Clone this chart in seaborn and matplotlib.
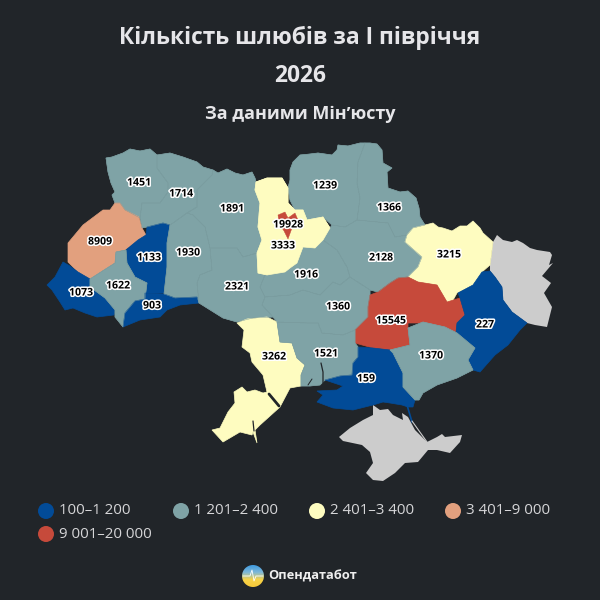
import numpy as np
import pandas as pd
import matplotlib.pyplot as plt
import matplotlib.patheffects as pe
from matplotlib.patches import Circle
import seaborn as sns

# назви областей і кількість шлюбів
oblasti = ['Волинська', 'Рівненська', 'Житомирська', 'Чернігівська', 'Сумська', 'Львівська',
           'Тернопільська', 'Хмельницька', 'Закарпатська', 'Івано-Франківська', 'Чернівецька',
           'Вінницька', 'Київська', 'Київ', 'Черкаська', 'Полтавська', 'Харківська',
           'Кіровоградська', 'Дніпропетровська', 'Донецька', 'Одеська', 'Миколаївська',
           'Херсонська', 'Запорізька']
shliuby = [1451, 1714, 1891, 1239, 1366, 8909,
           1133, 1930, 1073, 1622, 903,
           2321, 3333, 19928, 1916, 2128, 3215,
           1360, 15545, 227, 3262, 1521,
           159, 1370]

# контури областей (пікселі картинки)
volyn = [(106,158),(112,157),(123,153),(130,149),(140,151),(150,149),(157,155),(157,168),(168,183),(168,192),(160,203),(142,203),(140,218),(125,210),(120,203),(115,203),(112,195),(115,192),(111,183),(108,172)]
rivne = [(157,155),(170,153),(183,157),(197,162),(203,167),(213,170),(212,175),(197,190),(197,207),(187,213),(173,223),(170,225),(163,223),(147,227),(142,228),(140,218),(142,203),(160,203),(168,192),(168,183),(157,168)]
zhytomyr = [(213,170),(218,173),(227,169),(235,173),(243,175),(252,172),(255,178),(256,182),(255,190),(260,203),(258,227),(262,240),(257,253),(243,257),(237,248),(210,248),(205,227),(193,215),(187,213),(197,207),(197,190),(212,175)]
chernihiv = [(290,170),(293,162),(300,155),(310,154),(318,153),(332,155),(337,150),(338,145),(348,146),(360,143),(365,143),(358,162),(357,183),(360,198),(357,220),(345,227),(332,225),(323,217),(307,220),(303,210),(295,210),(290,200),(288,188),(290,180)]
sumy = [(365,143),(370,143),(377,144),(382,150),(383,163),(392,168),(387,172),(388,188),(400,192),(408,191),(416,198),(419,208),(420,217),(425,225),(413,228),(407,235),(395,237),(388,223),(357,220),(360,198),(357,183),(358,162)]
lviv = [(120,203),(125,210),(139,217),(142,228),(146,235),(138,240),(125,250),(116,252),(115,263),(90,279),(78,272),(68,262),(68,243),(83,225),(103,210),(110,210),(115,203)]
ternopil = [(146,235),(147,227),(163,223),(170,225),(167,243),(167,267),(164,293),(145,293),(147,283),(135,277),(127,263),(126,250),(138,240)]
khmelnytskyi = [(170,225),(173,223),(187,213),(193,215),(205,227),(210,248),(212,270),(200,275),(197,283),(199,303),(197,297),(175,298),(164,294),(167,267),(167,243)]
zakarpattia = [(63,262),(70,266),(78,272),(90,279),(90,287),(105,298),(115,310),(114,315),(97,317),(85,313),(73,308),(65,310),(60,302),(52,290),(47,285),(55,277)]
frankivsk = [(116,252),(126,250),(127,263),(135,277),(147,283),(145,299),(135,301),(125,313),(123,327),(115,317),(115,310),(105,298),(90,287),(90,279),(115,263)]
chernivtsi = [(145,293),(164,294),(175,298),(197,297),(199,303),(180,305),(167,310),(160,317),(140,320),(123,327),(125,313),(135,301),(145,299)]
vinnytsia = [(210,248),(237,248),(243,257),(257,253),(258,273),(265,275),(260,287),(265,297),(262,305),(273,317),(253,318),(237,322),(223,318),(199,303),(197,283),(200,275),(212,270)]
kyiv_obl = [(256,182),(267,178),(282,178),(288,188),(288,203),(295,210),(303,210),(307,220),(323,217),(330,228),(323,240),(315,248),(303,247),(297,263),(290,268),(285,272),(267,275),(258,273),(257,253),(262,240),(258,227),(260,203),(255,190)]
kyiv_city = [(278,215),(285,212),(288,218),(295,213),(298,220),(292,228),(288,239),(284,231),(279,223)]
cherkasy = [(315,248),(323,240),(337,250),(347,267),(350,277),(340,285),(333,282),(320,295),(303,290),(290,295),(265,297),(260,287),(265,275),(267,275),(285,272),(290,268),(297,263),(303,247)]
poltava = [(357,220),(388,223),(395,237),(407,235),(405,242),(422,257),(418,267),(408,277),(398,278),(390,283),(378,292),(370,290),(350,277),(347,267),(337,250),(323,240),(330,228),(332,225),(345,227)]
kharkiv = [(405,242),(407,235),(413,228),(425,225),(433,223),(438,227),(443,228),(452,231),(460,226),(467,226),(473,221),(480,228),(483,233),(493,242),(490,265),(482,272),(473,285),(457,293),(452,302),(447,302),(437,285),(418,282),(408,277),(418,267),(422,257)]
kirovohrad = [(265,297),(290,295),(303,290),(320,295),(333,282),(340,285),(350,277),(370,290),(370,295),(368,307),(368,317),(355,330),(343,335),(322,333),(318,323),(307,323),(277,322),(273,317),(262,305)]
dnipro = [(390,283),(398,278),(408,277),(418,282),(437,285),(447,302),(460,298),(465,315),(457,323),(456,332),(440,332),(423,323),(408,323),(408,328),(410,345),(390,350),(373,348),(355,343),(355,330),(368,317),(368,307),(370,295),(378,292)]
donetsk = [(458,293),(473,285),(482,272),(490,271),(495,277),(502,287),(503,300),(512,312),(527,323),(520,330),(508,345),(495,355),(480,372),(473,370),(468,360),(475,348),(457,333),(456,332),(457,323),(465,315),(460,298)]
odesa = [(237,323),(247,319),(267,317),(277,322),(280,342),(292,343),(297,358),(305,365),(301,375),(301,386),(290,388),(280,407),(260,425),(255,430),(257,443),(253,432),(252,435),(240,432),(223,442),(212,430),(220,428),(228,412),(235,403),(234,392),(242,387),(247,392),(255,390),(263,393),(267,392),(263,375),(252,362),(250,353),(242,347),(244,330)]
mykolaiv = [(277,322),(307,323),(318,323),(322,333),(343,335),(355,330),(355,343),(358,347),(358,357),(353,363),(352,375),(340,376),(325,380),(320,385),(310,386),(301,386),(301,375),(305,365),(297,358),(292,343),(280,342)]
kherson = [(358,347),(373,348),(390,350),(393,353),(403,373),(403,387),(415,400),(413,407),(408,407),(402,405),(390,403),(383,402),(373,405),(353,410),(333,408),(317,402),(323,395),(317,391),(337,390),(343,386),(325,380),(340,376),(352,375),(353,363),(358,357)]
zaporizhzhia = [(408,328),(423,322),(445,327),(457,333),(475,348),(468,360),(473,370),(457,378),(437,385),(423,393),(419,400),(415,400),(403,387),(403,373),(393,353),(390,350),(410,345)]
kontury = [volyn, rivne, zhytomyr, chernihiv, sumy, lviv, ternopil, khmelnytskyi, zakarpattia, frankivsk, chernivtsi,
           vinnytsia, kyiv_obl, kyiv_city, cherkasy, poltava, kharkiv, kirovohrad, dnipro, donetsk, odesa, mykolaiv,
           kherson, zaporizhzhia]

# території без даних
luhansk = [(497,235),(503,240),(512,242),(517,240),(523,243),(530,248),(537,250),(550,252),(552,255),(549,265),(553,263),(542,276),(551,283),(544,293),(552,307),(547,327),(535,325),(527,323),(512,312),(503,300),(502,287),(495,277),(490,271),(490,265),(493,242)]
krym = [(373,405),(380,410),(388,409),(393,415),(403,420),(402,413),(408,417),(415,430),(427,442),(437,437),(442,434),(445,437),(462,435),(460,442),(450,453),(437,450),(428,450),(418,462),(405,463),(395,473),(383,481),(373,480),(366,473),(373,463),(370,452),(362,445),(343,441),(339,437),(350,428),(363,420),(373,415)]

# підписи
pidpys_x = [139, 181, 232, 325, 389, 100, 149, 188, 81, 118, 152, 237, 283, 288, 306, 381, 449, 338, 391, 485, 274, 326, 366, 431]
pidpys_y = [183, 194, 209, 186, 208, 242, 258, 253, 293, 286, 306, 287, 246, 225, 275, 258, 255, 307, 321, 325, 357, 354, 379, 356]

# легенда
interval_mezhi = [0, 1200, 2400, 3400, 9000, 20000]
interval_nazvy = ['100–1 200', '1 201–2 400', '2 401–3 400', '3 401–9 000', '9 001–20 000']
kolory = ['#024b97', '#7fa3a6', '#fefcc0', '#e2a07e', '#c64a3b']
legenda_x = [46, 181, 317, 453, 46]
legenda_y = [511, 511, 511, 511, 534]

fon = '#212529'
sirij = '#cccccc'

sns.set_theme(style='dark', rc={'axes.facecolor': fon, 'figure.facecolor': fon})
plt.rcParams['font.family'] = ['Open Sans', 'DejaVu Sans']

df = pd.DataFrame({'oblast': oblasti, 'shliuby': shliuby, 'x': pidpys_x, 'y': pidpys_y})
df['klas'] = pd.cut(df['shliuby'], bins=interval_mezhi, labels=interval_nazvy)
paleta = dict(zip(interval_nazvy, kolory))

fig = plt.figure(figsize=(6, 6), dpi=100)
ax = fig.add_axes([0, 0, 1, 1])
ax.set_xlim(0, 600)
ax.set_ylim(600, 0)
ax.axis('off')

for kontur in [luhansk, krym]:
    xs, ys = zip(*kontur)
    ax.fill(xs, ys, color=sirij, lw=0, zorder=1)

for kontur, klas in zip(kontury, df['klas']):
    xs, ys = zip(*kontur)
    kolir = paleta[klas]
    ax.fill(xs, ys, facecolor=kolir, edgecolor=kolir, lw=0.5, zorder=2)

# тонкі межі між областями, лише для сіро-зелених
for kontur, klas in zip(kontury, df['klas']):
    if klas == interval_nazvy[1]:
        xs, ys = zip(*kontur)
        ax.fill(xs, ys, facecolor='none', edgecolor='#7a9c9f', lw=0.3, zorder=3)
# жовтий Київщини і червоний Київ лягають поверх
xs, ys = zip(*kyiv_obl)
ax.fill(xs, ys, color=kolory[2], lw=0.5, zorder=3)
xs, ys = zip(*kyiv_city)
ax.fill(xs, ys, color=kolory[4], lw=0.3, zorder=3)

# лимани і дрібні деталі узбережжя
ax.plot([321, 323, 323], [363, 372, 383], color=fon, lw=0.9, zorder=4)
ax.plot([269, 279], [394, 406], color=fon, lw=2.0, zorder=4)
ax.plot([312, 308], [379, 385], color=fon, lw=0.7, zorder=4)
ax.plot([253, 254], [421, 431], color=fon, lw=0.9, zorder=4)
ax.plot([407, 412], [405, 422], color=kolory[0], lw=1.2, zorder=4)
ax.plot([412, 427], [421, 442], color=sirij, lw=0.8, zorder=4)

# кількість шлюбів
for _, r in df.iterrows():
    ax.text(r['x'], r['y'], str(r['shliuby']), ha='center', va='center', color='black', fontsize=7.6,
            fontweight='bold', zorder=6, path_effects=[pe.withStroke(linewidth=2.2, foreground='white')])

ax.text(300, 38, 'Кількість шлюбів за І півріччя', ha='center', va='center', color='#e6e6e9',
        fontsize=16.4, fontweight='bold')
ax.text(300, 76, '2026', ha='center', va='center', color='#e6e6e9', fontsize=16.4, fontweight='bold')
ax.text(300, 114, 'За даними Мінʼюсту', ha='center', va='center', color='#e6e6e9', fontsize=13, fontweight='bold')

# легенда
sns.scatterplot(x=legenda_x, y=legenda_y, hue=interval_nazvy, palette=paleta, s=133, linewidth=0,
                legend=False, ax=ax, zorder=5)
for x, y, nazva in zip(legenda_x, legenda_y, interval_nazvy):
    ax.text(x + 13, y, nazva, ha='left', va='center', color='#d6d6d8', fontsize=10.8)

# логотип
gradient = np.linspace(0, 1, 64).reshape(-1, 1)
cmap = sns.blend_palette(['#3f9be0', '#7fb8d8', '#f7d348', '#f7c93a'], as_cmap=True)
im = ax.imshow(gradient, extent=(242, 264, 587, 565), cmap=cmap, aspect='auto', zorder=5)
im.set_clip_path(Circle((253, 576), 11, transform=ax.transData))
ax.set_xlim(0, 600)
ax.set_ylim(600, 0)
ax.plot([243, 250, 252, 254, 256, 263], [576, 576, 570, 581, 576, 576], color='white', lw=0.6, zorder=6)
ax.text(268, 576, 'Опендатабот', ha='left', va='center', color='#eeeeee', fontsize=9.3, fontweight='bold')

fig.savefig('out.png', dpi=100, facecolor=fon)
